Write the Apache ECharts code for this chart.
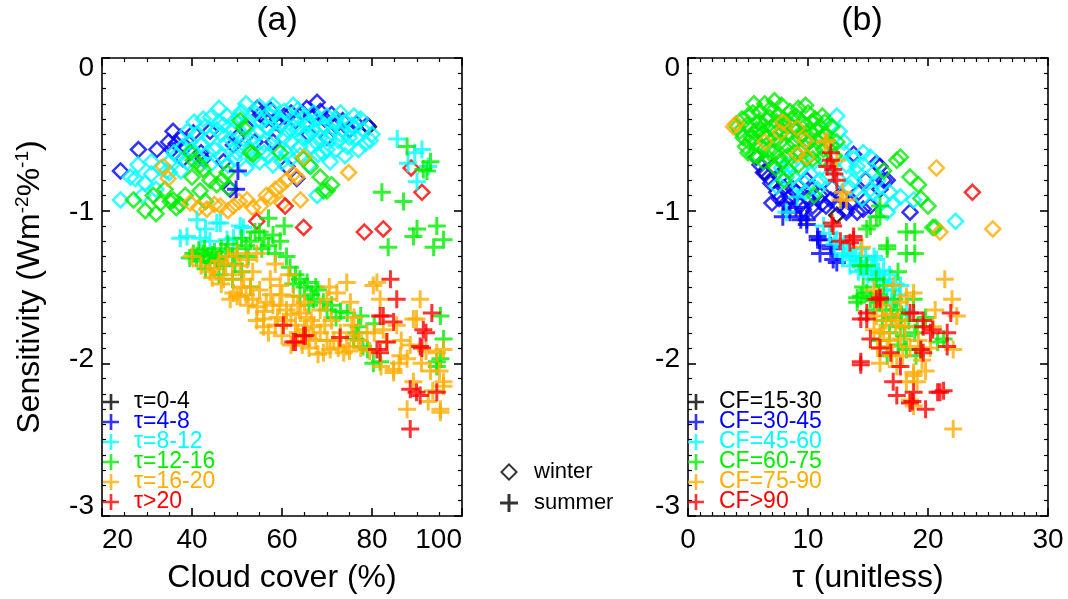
<!DOCTYPE html>
<html><head><meta charset="utf-8">
<script src="https://cdn.jsdelivr.net/npm/echarts@6/dist/echarts.min.js"></script>
<style>html,body{margin:0;padding:0;background:#fff}#c{width:1068px;height:599px}</style>
</head><body><div id="c"></div>
<script>
// ---------- categories / labels ----------
const tauClasses = ['τ=0-4','τ=4-8','τ=8-12','τ=12-16','τ=16-20','τ>20'];
const cfClasses  = ['CF=15-30','CF=30-45','CF=45-60','CF=60-75','CF=75-90','CF>90'];
const classColors = ['#000000','#0000ff','#00ffff','#00ee00','#ffad00','#ff0000'];
const seasonNames = ['winter','summer'];
const panelTitles = ['(a)','(b)'];
const xNameA = 'Cloud cover (%)';
const xNameB = 'τ (unitless)';

// ---------- panel (a): x = cloud cover (%), y = sensitivity ----------
const aW0 = [[79.2,-0.45]];
const aW1 = [[24.1,-0.74],[28.1,-0.60],[32.2,-0.60],[34.8,-0.55],[35.8,-0.48],[36.5,-0.56],[37.4,-0.52],[38.5,-0.58],[35.5,-0.60],[40.3,-0.49],[42,-0.62],[44,-0.48],[49.2,-0.57],[52,-0.45],[54.5,-0.33],[55.2,-0.37],[56.5,-0.40],[57.4,-0.34],[58.5,-0.42],[59.6,-0.44],[60.5,-0.38],[62,-0.36],[63,-0.41],[64.5,-0.36],[65.5,-0.33],[66.5,-0.38],[67.8,-0.29],[68.5,-0.35],[69.5,-0.40],[71,-0.37],[72,-0.44],[73.5,-0.41],[75,-0.47],[76.5,-0.43],[78.9,-0.44],[61.1,-0.71],[63.3,-0.79],[54,-0.55],[47,-0.68],[50,-0.52],[58,-0.55],[66,-0.50],[70,-0.52],[42.5,-0.66],[38,-0.66],[48.5,-0.86]];
const aW2 = [[24.1,-0.93],[26.3,-0.78],[27.4,-0.79],[29.5,-0.82],[31,-0.76],[33,-0.72],[34.4,-0.74],[35,-0.68],[36.5,-0.64],[38,-0.58],[39.5,-0.55],[41,-0.50],[42,-0.57],[43,-0.45],[44.1,-0.39],[44,-0.52],[45,-0.60],[46,-0.42],[46.5,-0.50],[47.5,-0.56],[47.8,-0.38],[49,-0.47],[50,-0.62],[50.5,-0.38],[51.5,-0.53],[52.5,-0.44],[53,-0.60],[54,-0.36],[54.5,-0.49],[55.5,-0.42],[56,-0.56],[57,-0.46],[57.5,-0.38],[58.5,-0.50],[59,-0.60],[60,-0.42],[60.5,-0.35],[61.5,-0.48],[62,-0.55],[63,-0.40],[63.5,-0.46],[64.5,-0.52],[65,-0.38],[65.5,-0.44],[66.5,-0.58],[67,-0.47],[68,-0.40],[68.5,-0.52],[69.5,-0.45],[70,-0.60],[71,-0.49],[71.5,-0.42],[72.5,-0.54],[73.5,-0.47],[74.5,-0.58],[75.5,-0.44],[76.5,-0.52],[78,-0.47],[79.6,-0.54],[77,-0.60],[70.7,-0.68],[67.8,-0.90],[66,-0.70],[62,-0.66],[58,-0.70],[55,-0.68],[52,-0.72],[48,-0.70],[44,-0.70],[41.5,-0.66],[37.5,-0.74],[32,-0.86],[29,-0.90],[36,-0.62],[40,-0.60],[46,-0.33],[52,-0.30],[58,-0.31],[62.5,-0.31],[73,-0.36],[76,-0.38],[80,-0.50],
  [39,-0.48],[40.5,-0.42],[42.5,-0.40],[45.5,-0.47],[47,-0.44],[48.5,-0.53],[49.5,-0.41],[51,-0.58],[51,-0.35],[53.5,-0.52],[55,-0.32],[56.5,-0.45],[57,-0.64],[58,-0.35],[59.5,-0.40],[60.5,-0.52],[61,-0.62],[62.5,-0.45],[63.5,-0.34],[64,-0.58],[65.5,-0.50],[66,-0.42],[67,-0.36],[67.5,-0.55],[68.5,-0.46],[69,-0.62],[70,-0.38],[70.5,-0.53],[72,-0.40],[73,-0.50],[74,-0.42],[75,-0.52],[76,-0.46],[77.5,-0.40],[78.5,-0.56],[43.5,-0.62],[46.5,-0.64],[49.5,-0.66],[53.5,-0.66],[56,-0.62],[60,-0.68],[64,-0.64],[68,-0.63],[72,-0.60],[74,-0.64],[39,-0.68],[35,-0.75],[31,-0.68],[28,-0.70]];
const aW3 = [[27,-0.93],[29.6,-1.0],[31.4,-0.90],[33,-0.95],[35.2,-0.94],[35.8,-0.93],[37.4,-0.96],[38.5,-0.90],[34,-0.86],[39.6,-0.62],[40.3,-0.67],[41.8,-0.70],[41.8,-0.87],[42.5,-0.73],[44,-0.80],[45.5,-0.83],[46.7,-0.80],[47.8,-0.75],[48.1,-0.85],[50.7,-0.41],[51.5,-0.46],[53,-0.62],[53.6,-0.63],[59.6,-0.62],[64.8,-0.66],[66.3,-0.71],[68.5,-0.78],[69.2,-0.87],[70,-0.87],[71,-0.83],[36.5,-0.98],[32,-1.02],[40,-0.78],[43,-0.94]];
const aW4 = [[33.6,-0.71],[34.7,-0.79],[39.6,-0.95],[41.5,-0.98],[43.3,-0.99],[45,-0.96],[46.3,-0.97],[48,-1.0],[49.2,-0.97],[50.5,-0.94],[52.2,-0.93],[53.5,-0.98],[55.2,-0.97],[56.5,-0.90],[57.4,-0.91],[58.5,-0.86],[59.6,-0.84],[61,-0.80],[62.5,-0.76],[63.3,-0.78],[64.1,-0.93],[64.8,-0.65],[74.8,-0.75],[60,-0.95]];
const aW5 = [[54.4,-1.07],[60.7,-0.97],[64.8,-1.11],[78.3,-1.14],[82.5,-1.12],[88.7,-0.72],[91.1,-0.88]];

const aS0 = [];
const aS1 = [[50.2,-0.74],[49.8,-0.86]];
const aS2 = [[85.6,-0.53],[91.1,-0.60],[88,-0.69],[92.5,-0.71],[90,-0.81],[89.5,-0.62],[37.4,-1.18],[38.9,-1.17],[41.1,-1.06],[41.8,-1.18],[43,-1.12],[45.5,-1.08],[46.3,-1.08],[47.8,-1.19],[49.2,-1.18],[50.7,-1.10],[51.4,-1.11],[44,-1.20]];
const aS3 = [[40.3,-1.28],[41,-1.31],[42,-1.33],[42.5,-1.28],[43.5,-1.30],[44,-1.34],[45,-1.27],[45.5,-1.32],[46.3,-1.30],[43,-1.38],[41.5,-1.26],[47,-1.36],[48,-1.22],[49,-1.30],[50,-1.25],[51,-1.18],[52,-1.23],[53,-1.20],[54,-1.14],[55,-1.14],[56,-1.18],[57,-1.23],[58,-1.16],[59.6,-1.20],[60.5,-1.10],[57,-1.05],[61.8,-1.37],[63,-1.42],[64,-1.45],[65,-1.50],[65.6,-1.47],[66.5,-1.55],[67,-1.58],[68,-1.52],[69.2,-1.60],[70,-1.65],[49,-1.45],[51,-1.40],[53,-1.50],[46,-1.42],[74.5,-1.67],[75.9,-1.84],[77,-1.76],[78,-1.89],[79,-1.91],[80.3,-2.0],[81.8,-1.99],[80.5,-1.74],[77.5,-1.69],[94.4,-2.02],[95.2,-1.97],[95.9,-1.84],[95.2,-1.69],[94.4,-1.99],[87.8,-0.58],[92.2,-0.74],[91.4,-0.73],[93,-0.68],[82.2,-0.88],[87,-0.94],[94.4,-1.10],[89.2,-1.17],[95.9,-1.19],[83.6,-1.24],[93.7,-1.24],[90,-1.12],
  [42.8,-1.25],[44.5,-1.29],[47.5,-1.27],[49.5,-1.35],[52.5,-1.30],[55.5,-1.25],[58.5,-1.28],[61,-1.30],[62.5,-1.48],[64,-1.56],[66,-1.62],[67.5,-1.50],[71,-1.62],[72,-1.70],[73,-1.66],[76.5,-1.80],[39.5,-1.31],[46.5,-1.25]];
const aS4 = [[40,-1.30],[42,-1.36],[44,-1.40],[46,-1.33],[47,-1.45],[48,-1.30],[49.2,-1.54],[50,-1.28],[50,-1.56],[50.7,-1.36],[50.7,-1.56],[51.5,-1.45],[52.2,-1.32],[53,-1.50],[53.5,-1.40],[54.4,-1.28],[54.4,-1.72],[55,-1.52],[55.9,-1.71],[55.9,-1.76],[56.5,-1.60],[57.4,-1.45],[58,-1.62],[58.5,-1.35],[59,-1.70],[59.6,-1.49],[60,-1.55],[61,-1.65],[61.5,-1.42],[62.5,-1.56],[63,-1.75],[63.5,-1.62],[64.1,-1.67],[65,-1.78],[65.5,-1.70],[66,-1.84],[67,-1.76],[68.5,-1.65],[68.5,-1.80],[69.2,-1.93],[70,-1.58],[70.7,-1.91],[71.5,-1.85],[72.2,-1.54],[73.7,-1.93],[74.4,-1.89],[74.4,-1.47],[75.2,-1.60],[76,-1.82],[77.5,-1.90],[78.9,-1.80],[80.3,-1.49],[81.1,-1.47],[81.8,-1.58],[82.5,-1.78],[83.3,-1.86],[84.8,-2.04],[84.8,-2.06],[86.3,-1.95],[87.8,-1.97],[87.8,-2.30],[89.2,-1.71],[89.2,-2.12],[89.9,-1.71],[90.7,-1.58],[92,-1.92],[93,-2.05],[94.4,-1.93],[95.2,-2.30],[95.2,-2.32],[95.9,-1.91],[95.9,-2.12],[95.9,-2.15],[44.5,-1.44],[46.5,-1.48],[48.5,-1.58],[52.5,-1.62],[57,-1.80],[60,-1.82],[66,-1.90],[71,-1.72],[76,-1.70],[62,-1.88],
  [45,-1.38],[47.5,-1.35],[49,-1.42],[51,-1.50],[52,-1.55],[53.5,-1.58],[54.5,-1.63],[56,-1.66],[57.5,-1.55],[58.5,-1.75],[59.5,-1.62],[61,-1.72],[62,-1.68],[63.5,-1.80],[64.5,-1.88],[65,-1.60],[66.5,-1.72],[67.5,-1.85],[68,-1.94],[69.5,-1.75],[70,-1.85],[72.5,-1.90],[73,-1.80],[75,-1.92],[77,-1.85],[79.5,-1.92],[80.5,-1.80],[85.5,-1.75],[86.5,-1.85],[88.5,-1.88],[91,-2.0],[93.5,-2.18],[92.5,-2.25],[86,-2.0],[95,-2.05],[82,-2.02],[70.5,-1.50],[75.5,-1.75]];
const aS5 = [[60.3,-1.75],[62.5,-1.86],[63,-1.86],[64.8,-1.82],[65.2,-1.82],[72.9,-1.83],[81.1,-1.91],[81.8,-1.69],[81.8,-1.93],[82.5,-1.69],[83.3,-1.86],[84.1,-1.45],[84.8,-1.73],[85.5,-1.58],[88.5,-2.17],[88.5,-2.43],[89.9,-2.19],[90.7,-1.89],[90.7,-2.21],[91.1,-1.90],[91.4,-1.78],[93.3,-1.67],[94.4,-2.19],[92,-1.80]];

// ---------- panel (b): x = tau, y = sensitivity ----------
const bW0 = [[12.4,-1.03],[6.4,-0.75]];
const bW1 = [[6.3,-0.75],[6.9,-0.82],[7.4,-0.88],[7.1,-0.71],[5.7,-0.65],[8.5,-0.91],[9.4,-0.96],[9.9,-0.80],[10.4,-0.97],[11,-0.90],[11.9,-0.93],[12.5,-0.96],[13.2,-0.99],[13.2,-1.01],[13.8,-0.63],[14.1,-1.01],[14.6,-0.99],[14.8,-0.80],[15.2,-0.97],[15.7,-0.69],[16,-0.86],[16,-0.71],[16.3,-0.80],[16.6,-0.80],[18.5,-1.01],[8,-0.85],[9,-0.88],[10,-0.92],[11.5,-0.97],[12,-0.85],[7.7,-0.78],[10.5,-1.0],
  [6.7,-0.78],[7.6,-0.92],[8.2,-0.95],[8.8,-0.86],[9.6,-0.99],[10.2,-0.85],[11.2,-0.95],[12.8,-0.91],[13.5,-0.95],[14.2,-0.88],[6,-0.70],[7,-0.95]];
const bW2 = [[12.4,-0.38],[11.9,-0.45],[12.9,-0.61],[14.6,-0.62],[14.1,-0.71],[15.5,-0.75],[15.2,-0.86],[16.2,-0.93],[15.2,-0.65],[15.4,-0.88],[17.1,-0.95],[22.3,-1.07],[8.2,-0.78],[9.4,-0.73],[11,-0.80],[7.4,-0.84],[14.1,-0.75],[17.7,-0.91],[18.8,-0.93],[16.6,-1.01],[13.5,-0.85],[12,-0.70],[10.5,-0.68],[13,-0.55],[8.5,-0.70],[9.8,-0.88],[14.5,-0.92],
  [7.8,-0.72],[8.8,-0.78],[9.2,-0.84],[10.2,-0.76],[10.8,-0.86],[11.6,-0.78],[12.6,-0.80],[13.2,-0.70],[13.8,-0.80],[16.8,-0.88],[15.8,-0.80],[12.6,-0.48],[13.8,-0.66]];
const bW3 = [[4.1,-0.45],[4.5,-0.40],[4.6,-0.52],[5,-0.38],[5.2,-0.47],[5.5,-0.30],[5.6,-0.56],[5.9,-0.42],[6,-0.35],[6.2,-0.50],[6.5,-0.40],[6.7,-0.60],[6.9,-0.33],[7,-0.45],[7.2,-0.53],[7.5,-0.37],[7.6,-0.65],[7.9,-0.48],[8,-0.40],[8.2,-0.57],[8.5,-0.35],[8.7,-0.45],[8.9,-0.62],[9,-0.38],[9.3,-0.52],[9.5,-0.42],[9.7,-0.58],[10,-0.36],[10.2,-0.48],[10.4,-0.66],[10.6,-0.40],[10.8,-0.55],[11,-0.45],[11.3,-0.60],[11.5,-0.50],[11.9,-0.57],[12.2,-0.64],[6.3,-0.68],[5,-0.62],[7.3,-0.72],[8.4,-0.74],[9.2,-0.70],[8,-0.80],[10.5,-0.90],[16.3,-0.74],[17.4,-0.67],[17.7,-0.65],[18.5,-0.78],[19.2,-0.83],[19.4,-0.92],[20,-0.97],[20.6,-1.11],[20.4,-1.11],[4.8,-0.58],[5.8,-0.64],[12,-0.45],[11.2,-0.38],[9.8,-0.31],[7.2,-0.28],
  [4.3,-0.48],[4.9,-0.44],[5.3,-0.52],[5.4,-0.36],[5.7,-0.47],[6.1,-0.58],[6.3,-0.44],[6.4,-0.30],[6.6,-0.52],[6.8,-0.39],[7.1,-0.62],[7.3,-0.49],[7.4,-0.42],[7.7,-0.55],[7.8,-0.31],[8.1,-0.44],[8.3,-0.64],[8.4,-0.50],[8.6,-0.40],[8.8,-0.55],[9.1,-0.47],[9.2,-0.33],[9.4,-0.62],[9.6,-0.50],[9.8,-0.44],[9.9,-0.66],[10.1,-0.55],[10.3,-0.42],[10.5,-0.60],[10.7,-0.47],[11.1,-0.52],[11.2,-0.66],[11.4,-0.42],[11.7,-0.55],[12.4,-0.55],[5.5,-0.64],[6.8,-0.66],[7.8,-0.68],[5.1,-0.55],[6,-0.47]];
const bW4 = [[3.8,-0.45],[4.0,-0.43],[6.4,-0.55],[7.7,-0.49],[7.9,-0.42],[9.1,-0.46],[9.1,-0.63],[9.8,-0.54],[9.9,-0.65],[20.7,-0.72],[21,-1.14],[25.4,-1.12]];
const bW5 = [[23.7,-0.88]];

const bS0 = [];
const bS1 = [[7.9,-1.04],[8.5,-1.01],[9.4,-1.06],[9.4,-1.04],[9.9,-1.09],[9.9,-1.06],[10.8,-1.19],[10.8,-1.17],[11,-1.19],[11,-1.28],[11.9,-1.23],[11.9,-1.25],[12.1,-1.32],[12.4,-1.34],[8,-0.95],[9,-0.98]];
const bS2 = [[8.2,-1.01],[9.1,-0.91],[11.3,-1.10],[12.4,-1.19],[12.9,-1.28],[12.9,-1.30],[13.5,-1.36],[13.8,-1.32],[14.4,-1.25],[14.6,-1.39],[14.9,-1.36],[15.5,-1.45],[15.7,-1.32],[16.3,-1.39],[16.6,-1.52],[17.1,-1.58],[17.7,-1.49],[18.2,-1.65],[13,-1.22],[14,-1.30],[15,-1.42],[16,-1.46],[17,-1.52],[16.8,-1.42],[15.5,-1.30],[14.2,-1.40],
  [11.8,-1.15],[12.2,-1.22],[13.3,-1.25],[13.6,-1.30],[14.3,-1.33],[14.8,-1.30],[15.3,-1.38],[15.9,-1.40],[16.4,-1.45],[17.3,-1.48],[17.6,-1.55],[16.9,-1.62]];
const bS3 = [[14.9,-1.12],[16,-1.04],[18.2,-1.14],[18.2,-1.28],[16.6,-1.23],[14.9,-1.36],[15.7,-1.45],[14.4,-1.56],[14.1,-1.60],[16.3,-1.49],[17.4,-1.65],[17.7,-1.76],[18.2,-1.91],[19.1,-1.76],[21.3,-1.84],[16,-1.60],[18.9,-1.14],[18.9,-1.28],[16,-0.97],[16.6,-1.25],[15.2,-1.10],[14.4,-1.36],[15.7,-1.04],[20.8,-1.86],[19.4,-1.91],[16.6,-1.95],[18.8,-1.58],[14.9,-1.54],[14.1,-1.57],[17,-1.70],[18,-1.82],[17.5,-1.40],[16.8,-1.80],[19.8,-1.70],[15.5,-1.65],
  [14.6,-1.50],[15.2,-1.58],[15.9,-1.55],[16.5,-1.65],[17.2,-1.58],[17.8,-1.68],[18.4,-1.72],[16.2,-1.72],[17.5,-1.88],[18.9,-1.80],[16,-1.85],[19,-1.95]];
const bS4 = [[11.6,-0.54],[11.4,-0.55],[12.4,-0.67],[12.9,-0.88],[13.2,-0.93],[12.7,-0.93],[14.5,-1.24],[21.4,-1.45],[22,-1.58],[22.4,-1.69],[17.1,-1.49],[18.2,-1.56],[15.7,-1.69],[16.3,-1.80],[17.7,-1.84],[18.5,-1.89],[16.6,-1.89],[16,-2.0],[18.8,-2.06],[19.1,-2.12],[18.5,-2.24],[22.1,-2.43],[22.1,-1.91],[18.8,-2.08],[18.8,-2.28],[16,-1.80],[17.7,-1.60],[15.5,-1.52],[18.8,-1.54],[20.4,-1.76],[17,-1.95],[16.5,-1.72],[19.5,-1.98],[17.3,-1.75],[15.8,-1.90],
  [16.2,-1.62],[16.9,-1.68],[17.5,-1.72],[18.1,-1.76],[16.8,-1.85],[17.9,-1.95],[19.2,-1.85],[20.2,-1.90],[15.5,-1.78],[17.4,-2.02],[18.2,-2.12],[19.8,-2.05],[20.6,-1.65]];
const bS5 = [[11.9,-0.67],[12.1,-0.73],[11.6,-0.71],[12.4,-0.80],[11.9,-0.62],[12.2,-0.76],[12.1,-1.10],[13.8,-1.17],[13.5,-1.21],[12,-1.08],[12.7,-1.20],[13.8,-1.19],[16,-1.58],[14.4,-1.71],[15.7,-1.58],[14.9,-1.67],[18.8,-1.67],[19.6,-1.76],[20.2,-1.80],[21.6,-1.80],[21.9,-1.67],[19.4,-1.91],[15.2,-1.84],[14.4,-1.99],[14.4,-2.01],[16.9,-1.93],[17.7,-2.02],[17.1,-2.12],[17.4,-2.21],[18.8,-2.19],[18.7,-2.25],[19.8,-2.30],[20.8,-2.19],[21.3,-2.18],[18.5,-2.26],[21,-2.19],[14.9,-1.71],[18.5,-1.67],[19.6,-1.72],[20.4,-1.78],[19.6,-1.93],[21.6,-1.89],[16,-1.90],[16,-1.57]];

const winterA = [aW0,aW1,aW2,aW3,aW4,aW5];
const summerA = [aS0,aS1,aS2,aS3,aS4,aS5];
const winterB = [bW0,bW1,bW2,bW3,bW4,bW5];
const summerB = [bS0,bS1,bS2,bS3,bS4,bS5];

// ---------- styling ----------
const FONT = 'Liberation Sans';
const PLUS = 'path://M-1.5,-9L1.5,-9L1.5,9L-1.5,9Z M-9,-1.5L9,-1.5L9,1.5L-9,1.5Z';
const DIAMOND_HOLLOW = 'path://M0,-9L9,0L0,9L-9,0Z M0,-6.2L-6.2,0L0,6.2L6.2,0Z';

function winterSeries(name, color, data, g) {
  return {type:'scatter', name, data, xAxisIndex:g*2, yAxisIndex:g*2,
    symbol:'diamond', symbolSize:15, silent:true, animation:false,
    itemStyle:{color:'rgba(0,0,0,0)', borderColor:color, borderWidth:2.5},
    emphasis:{disabled:true}};
}
function summerSeries(name, color, data, g) {
  return {type:'scatter', name, data, xAxisIndex:g*2, yAxisIndex:g*2,
    symbol:PLUS, symbolSize:18, silent:true, animation:false,
    itemStyle:{color:color}, emphasis:{disabled:true}};
}

const series = [];
tauClasses.forEach((n,i)=>series.push(winterSeries(n, classColors[i], winterA[i], 0)));
cfClasses.forEach((n,i)=>series.push(winterSeries(n, classColors[i], winterB[i], 1)));
tauClasses.forEach((n,i)=>series.push(summerSeries(n, classColors[i], summerA[i], 0)));
cfClasses.forEach((n,i)=>series.push(summerSeries(n, classColors[i], summerB[i], 1)));
series.push({type:'scatter', name:seasonNames[0], data:[], xAxisIndex:0, yAxisIndex:0, symbol:'diamond', itemStyle:{color:'#000'}});
series.push({type:'scatter', name:seasonNames[1], data:[], xAxisIndex:0, yAxisIndex:0, symbol:PLUS, itemStyle:{color:'#000'}});

const lineS = {color:'#000', width:1.6};
const yShift = {'0':'p0', '-1':'p1', '-2':'p2', '-3':'p3'};
const labTxt = {fontFamily:FONT, fontSize:28, color:'#000'};
function xAx(grid, pos, min, max, interval, minorSplit, showLabel, name, edgeAlign) {
  const lab = {show:showLabel, fontFamily:FONT, fontSize:28, color:'#000', margin:10};
  if (edgeAlign) { lab.alignMinLabel = 'left'; lab.alignMaxLabel = 'right'; }
  return {type:'value', gridIndex:grid, position:pos, min, max, interval,
    name: name || '', nameLocation:'middle', nameGap:46,
    nameTextStyle:{fontFamily:FONT, fontSize:32, color:'#000'},
    axisLine:{show:true, onZero:false, lineStyle:lineS},
    axisTick:{show:true, inside:true, length:8, lineStyle:lineS},
    minorTick:{show:true, splitNumber:minorSplit, length:4, lineStyle:{color:'#000', width:1.2}},
    splitLine:{show:false}, minorSplitLine:{show:false},
    axisLabel:lab};
}
function yAx(grid, pos, showLabel, name) {
  return {type:'value', gridIndex:grid, position:pos, min:-3, max:0, interval:1,
    name: name || '', nameLocation:'middle', nameGap:54, nameRotate:90,
    nameTextStyle:{fontFamily:FONT, fontSize:32, color:'#000',
      rich:{sup:{fontFamily:FONT, fontSize:19, color:'#000', padding:[0,0,16,0]}}},
    axisLine:{show:true, onZero:false, lineStyle:lineS},
    axisTick:{show:true, inside:true, length:8, lineStyle:lineS},
    minorTick:{show:true, splitNumber:10, length:4, lineStyle:{color:'#000', width:1.2}},
    splitLine:{show:false}, minorSplitLine:{show:false},
    axisLabel:{show:showLabel, fontFamily:FONT, fontSize:28, color:'#000', margin:8,
      formatter:v => '{' + (yShift[String(v)] || 'p1') + '|' + v + '}',
      rich:{
        p0:Object.assign({padding:[20,0,0,0]}, labTxt),
        p1:Object.assign({padding:[4,0,0,0]}, labTxt),
        p2:Object.assign({padding:[0,0,8,0]}, labTxt),
        p3:Object.assign({padding:[0,0,20,0]}, labTxt)
      }}};
}

function classLegend(names, left) {
  return {orient:'vertical', left, top:386, padding:0, itemWidth:28, itemHeight:16, itemGap:-12,
    selectedMode:false, icon:PLUS,
    textStyle:{fontFamily:FONT, fontSize:23, lineHeight:22, padding:[0,0,10,4]},
    data: names.map((n,i)=>({name:n, icon:PLUS,
      itemStyle:{color:classColors[i], borderWidth:0},
      textStyle:{color:classColors[i]}}))};
}

const option = {
  backgroundColor:'#fff',
  animation:false,
  title:[
    {text:panelTitles[0], left:277, top:4, textAlign:'center', padding:0, textStyle:{fontFamily:FONT, fontSize:34, fontWeight:'normal', color:'#000'}},
    {text:panelTitles[1], left:862, top:4, textAlign:'center', padding:0, textStyle:{fontFamily:FONT, fontSize:34, fontWeight:'normal', color:'#000'}}
  ],
  grid:[
    {left:102, top:58, width:360, height:459},
    {left:688, top:58, width:360, height:459}
  ],
  xAxis:[
    xAx(0,'bottom',20,100,20,4,true,xNameA,true),
    xAx(0,'top',20,100,20,4,false),
    xAx(1,'bottom',0,30,10,10,true,xNameB,false),
    xAx(1,'top',0,30,10,10,false)
  ],
  yAxis:[
    yAx(0,'left',true,'Sensitivity (Wm{sup|-2}%{sup|-1})'),
    yAx(0,'right',false),
    yAx(1,'left',true),
    yAx(1,'right',false)
  ],
  legend:[
    classLegend(tauClasses, 103),
    classLegend(cfClasses, 688),
    {orient:'vertical', left:500, top:454, padding:0, itemWidth:28, itemHeight:18, itemGap:-5,
      selectedMode:false,
      textStyle:{fontFamily:FONT, fontSize:22, lineHeight:22, color:'#000', padding:[0,0,14,6]},
      data:[
        {name:seasonNames[0], icon:DIAMOND_HOLLOW, itemStyle:{color:'#000', borderWidth:0}},
        {name:seasonNames[1], icon:PLUS, itemStyle:{color:'#000', borderWidth:0}}
      ]}
  ],
  series
};
const chart = echarts.init(document.getElementById('c'), null, {renderer:'canvas'});
chart.setOption(option);
</script>
</body></html>
